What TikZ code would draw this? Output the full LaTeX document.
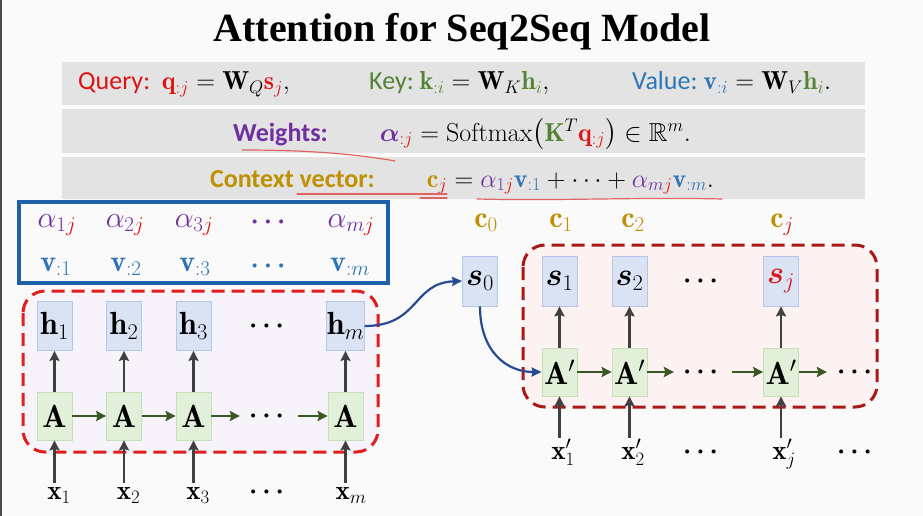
\documentclass[tikz,border=0pt]{standalone}
\usepackage{fix-cm}
\usepackage{amsmath,amssymb,bm}
\usepackage{fontspec}
\setsansfont{Carlito}
\newfontfamily\titlefont{Liberation Serif}
\usetikzlibrary{arrows.meta,calc}

\definecolor{bg}{RGB}{250,250,250}
\definecolor{qred}{RGB}{222,20,20}
\definecolor{kgreen}{RGB}{84,130,53}
\definecolor{vblue}{RGB}{46,117,182}
\definecolor{wpurple}{RGB}{112,48,160}
\definecolor{cyellow}{RGB}{191,144,0}
\definecolor{bandgray}{RGB}{227,227,227}
\definecolor{boxblue}{RGB}{31,96,172}
\definecolor{hfill}{RGB}{218,227,243}
\definecolor{hdraw}{RGB}{180,199,231}
\definecolor{afill}{RGB}{226,240,217}
\definecolor{adraw}{RGB}{197,224,180}
\definecolor{arrgray}{RGB}{64,64,64}
\definecolor{arrgreen}{RGB}{56,87,35}
\definecolor{curveblue}{RGB}{40,75,145}
\definecolor{encred}{RGB}{225,30,30}
\definecolor{decred}{RGB}{170,25,25}
\definecolor{encfill}{RGB}{247,243,250}
\definecolor{decfill}{RGB}{251,242,241}
\definecolor{penred}{RGB}{225,100,100}

\tikzset{
  big/.style={font=\fontsize{30}{34}\selectfont},
  boxfont/.style={font=\fontsize{32}{36}\selectfont},
  xfont/.style={font=\fontsize{27}{31}\selectfont},
  dotfont/.style={font=\fontsize{26}{30}\selectfont},
  mid/.style={font=\fontsize{26}{30}\selectfont},
  hbox/.style={draw=hdraw, fill=hfill, line width=0.8pt, minimum width=35pt, minimum height=49pt, inner sep=0pt, boxfont},
  abox/.style={draw=adraw, fill=afill, line width=0.8pt, minimum width=35pt, minimum height=48pt, inner sep=0pt, boxfont},
  upar/.style={draw=arrgray, line width=2.6pt, -{Stealth[length=10pt,width=10pt,inset=1.5pt]}},
  rightar/.style={draw=arrgreen, line width=2.6pt, -{Stealth[length=10pt,width=10pt,inset=1.5pt]}},
  curvear/.style={draw=curveblue, line width=2.2pt, -{Stealth[length=10pt,width=9pt,inset=1pt]}},
  lbl/.style={xfont, inner xsep=0pt, inner ysep=4pt, anchor=base},
  plbl/.style={xfont, inner xsep=0pt, inner ysep=1pt, anchor=base},
  dotsn/.style={dotfont, inner xsep=9pt, inner ysep=0pt},
  pen/.style={draw=penred, line width=1.2pt, line cap=round},
  enc/.style={draw=encred, fill=encfill, line width=3pt, dash pattern=on 13pt off 7pt, rounded corners=22pt},
  dec/.style={draw=decred, fill=decfill, line width=3pt, dash pattern=on 13pt off 7pt, rounded corners=22pt},
}

\begin{document}
\begin{tikzpicture}[x=1pt,y=-1pt]
\useasboundingbox[fill=bg] (0,0) rectangle (923,516);
\fill[black!70] (0,0) rectangle (1.5,516);

% title
\node[font=\titlefont\bfseries\fontsize{40}{44}\selectfont, anchor=base, inner sep=0pt] (title) at (462,42) {Attention for Seq2Seq Model};

% bands
\fill[bandgray] (62,62) rectangle (865,105);
\fill[bandgray] (62,109) rectangle (865,153);
\fill[bandgray] (62,157) rectangle (865,199);

\node[mid, anchor=base west, inner sep=0pt] (query) at (78,90)
  {\sffamily\textcolor{qred}{Query:}\ \ $\textcolor{qred}{\mathbf{q}_{:j}} = \mathbf{W}_{Q}\textcolor{qred}{\mathbf{s}_{j}},$};
\node[mid, anchor=base west, inner sep=0pt] (key) at (369,90)
  {\sffamily\textcolor{kgreen}{Key:}\ $\textcolor{kgreen}{\mathbf{k}_{:i}} = \mathbf{W}_{K}\textcolor{kgreen}{\mathbf{h}_{i}},$};
\node[mid, anchor=base west, inner sep=0pt] (value) at (632,90)
  {\sffamily\textcolor{vblue}{Value:}\ $\textcolor{vblue}{\mathbf{v}_{:i}} = \mathbf{W}_{V}\textcolor{kgreen}{\mathbf{h}_{i}}.$};

\node[mid, anchor=base, inner sep=0pt] (weights) at (462,141)
  {\sffamily\bfseries\textcolor{wpurple}{Weights:}\qquad $\textcolor{wpurple}{\bm{\alpha}}_{\textcolor{qred}{:j}} = \mathrm{Softmax}\big(\textcolor{kgreen}{\mathbf{K}}^{T}\textcolor{qred}{\mathbf{q}_{:j}}\big) \in \mathbb{R}^{m}.$};
\node[mid, anchor=base, inner sep=0pt] (context) at (462,187)
  {\sffamily\bfseries\textcolor{cyellow}{Context vector:}\qquad $\textcolor{cyellow}{\mathbf{c}}_{\textcolor{qred}{j}} = \textcolor{wpurple}{\alpha_{1\textcolor{qred}{j}}}\textcolor{vblue}{\mathbf{v}_{:1}} + \cdots + \textcolor{wpurple}{\alpha_{m\textcolor{qred}{j}}}\textcolor{vblue}{\mathbf{v}_{:m}}.$};

% pen annotations
\draw[pen] (242,150) .. controls (300,150) and (350,153) .. (395,161);
\draw[pen] (297,194) -- (447,194);
\draw[pen] (420,198) -- (447,198);
\draw[pen] (477,199) .. controls (560,201) and (640,197) .. (722,199);

% blue box with weights and values
\draw[boxblue, line width=4.5pt] (19,202) rectangle (388,283);
\node[big, anchor=base, inner sep=0pt] (al1) at (57,227) {$\textcolor{wpurple}{\alpha_{1\textcolor{qred}{j}}}$};
\node[big, anchor=base, inner sep=0pt] (al2) at (125,227) {$\textcolor{wpurple}{\alpha_{2\textcolor{qred}{j}}}$};
\node[big, anchor=base, inner sep=0pt] (al3) at (194,227) {$\textcolor{wpurple}{\alpha_{3\textcolor{qred}{j}}}$};
\node[dotfont, inner sep=0pt] (aldots) at (268,222) {$\textcolor{wpurple}{\bm{\cdots}}$};
\node[big, anchor=base, inner sep=0pt] (alm) at (351,227) {$\textcolor{wpurple}{\alpha_{m\textcolor{qred}{j}}}$};
\node[big, anchor=base, inner sep=0pt] (v1) at (56,271) {$\textcolor{vblue}{\mathbf{v}_{:1}}$};
\node[big, anchor=base, inner sep=0pt] (v2) at (126,271) {$\textcolor{vblue}{\mathbf{v}_{:2}}$};
\node[big, anchor=base, inner sep=0pt] (v3) at (195,271) {$\textcolor{vblue}{\mathbf{v}_{:3}}$};
\node[dotfont, inner sep=0pt] (vdots) at (268,266) {$\textcolor{vblue}{\bm{\cdots}}$};
\node[big, anchor=base, inner sep=0pt] (vm) at (350,271) {$\textcolor{vblue}{\mathbf{v}_{:m}}$};

% encoder region
\draw[enc] (23,291) rectangle (378,452);
\node[hbox] (h1) at (54.5,326) {$\mathbf{h}_1$};
\node[hbox] (h2) at (124,326) {$\mathbf{h}_2$};
\node[hbox] (h3) at (193.5,326) {$\mathbf{h}_3$};
\node[dotsn] (hdots) at (269,326) {$\bm{\cdots}$};
\node[hbox] (hm) at (345.5,326) {$\mathbf{h}_m$};
\node[abox] (A1) at (54.5,416) {$\mathbf{A}$};
\node[abox] (A2) at (124,416) {$\mathbf{A}$};
\node[abox] (A3) at (193.5,416) {$\mathbf{A}$};
\node[dotsn] (Adots) at (269,416) {$\bm{\cdots}$};
\node[abox] (Am) at (345.5,416) {$\mathbf{A}$};
\node[lbl] (x1) at (59,499) {$\mathbf{x}_1$};
\node[lbl] (x2) at (128.5,499) {$\mathbf{x}_2$};
\node[lbl] (x3) at (198,499) {$\mathbf{x}_3$};
\node[dotsn] (xdots) at (269,492) {$\bm{\cdots}$};
\node[lbl] (xm) at (351,499) {$\mathbf{x}_m$};

\foreach \i in {1,2,3,m}{
  \draw[upar] (x\i.north -| A\i.south) -- (A\i.south);
  \draw[upar] (A\i.north) -- (h\i.south);
}
\draw[rightar] (A1.east) -- (A2.west);
\draw[rightar] (A2.east) -- (A3.west);
\draw[rightar] (A3.east) -- (Adots.west);
\draw[rightar] (Adots.east) -- (Am.west);

% decoder region
\draw[dec] (523,245) rectangle (877,407);
\node[big, anchor=base, inner sep=0pt] (c0) at (486,227) {$\textcolor{cyellow}{\mathbf{c}_0}$};
\node[big, anchor=base, inner sep=0pt] (c1) at (561,227) {$\textcolor{cyellow}{\mathbf{c}_1}$};
\node[big, anchor=base, inner sep=0pt] (c2) at (633,227) {$\textcolor{cyellow}{\mathbf{c}_2}$};
\node[big, anchor=base, inner sep=0pt] (cj) at (782,227) {$\textcolor{cyellow}{\mathbf{c}}_{\textcolor{qred}{j}}$};

\node[hbox, minimum height=50pt] (s0) at (480,281) {$\bm{s}_0$};
\node[hbox, minimum height=50pt] (s1) at (559.5,281) {$\bm{s}_1$};
\node[hbox, minimum height=50pt] (s2) at (629.5,281) {$\bm{s}_2$};
\node[dotsn] (sdots) at (703,281) {$\bm{\cdots}$};
\node[hbox, minimum height=50pt] (sj) at (781,281) {$\textcolor{qred}{\bm{s}_j}$};

\node[abox] (B1) at (559.5,372) {$\mathbf{A}'$};
\node[abox] (B2) at (629.5,372) {$\mathbf{A}'$};
\node[dotsn] (Bdots) at (703,372) {$\bm{\cdots}$};
\node[abox] (Bj) at (781,372) {$\mathbf{A}'$};
\node[dotsn, inner xsep=10pt] (Bend) at (857,372) {$\bm{\cdots}$};

\node[plbl] (y1) at (563,459) {$\mathbf{x}'_1$};
\node[plbl] (y2) at (633,459) {$\mathbf{x}'_2$};
\node[dotsn] (ydots) at (703,452) {$\bm{\cdots}$};
\node[plbl] (yj) at (784,459) {$\mathbf{x}'_j$};
\node[dotsn] (yend) at (857,452) {$\bm{\cdots}$};

\draw[upar] (y1.north -| B1.south) -- (B1.south);
\draw[upar] (y2.north -| B2.south) -- (B2.south);
\draw[upar] (yj.north -| Bj.south) -- (Bj.south);
\draw[upar] (B1.north) -- (s1.south);
\draw[upar] (B2.north) -- (s2.south);
\draw[upar] (Bj.north) -- (sj.south);

\draw[rightar] (B1.east) -- (B2.west);
\draw[rightar] (B2.east) -- (Bdots.west);
\draw[rightar] (Bdots.east) -- (Bj.west);
\draw[rightar] (Bj.east) -- (Bend.west);

% connections encoder -> decoder
\draw[curvear] (hm.east) .. controls +(55,0) and +(-50,2) .. (s0.west);
\draw[curvear] (s0.south) .. controls +(0,45) and +(-35,0) .. (B1.west);
\end{tikzpicture}
\end{document}
